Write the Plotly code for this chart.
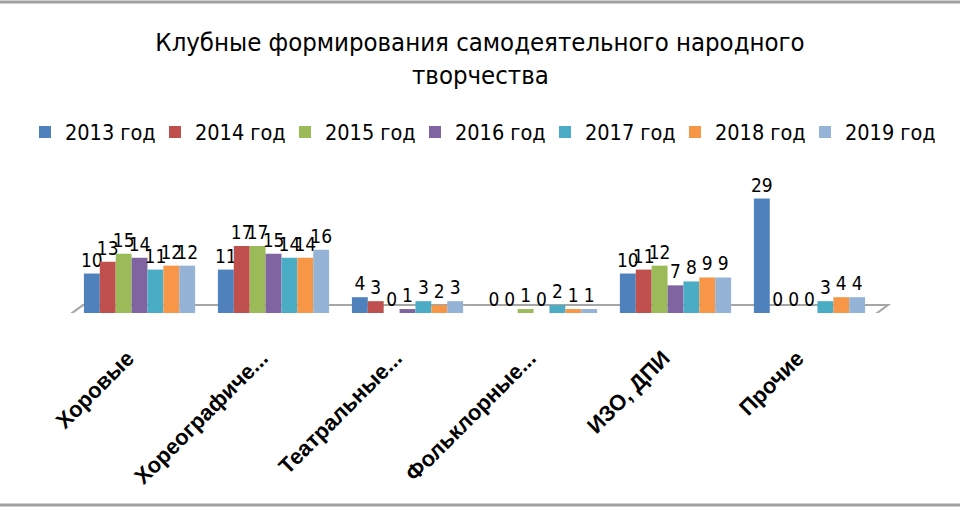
import plotly.graph_objects as go

# данные
categories = ["Хоровые", "Хореографиче...", "Театральные...", "Фольклорные...", "ИЗО, ДПИ", "Прочие"]
years = ["2013 год", "2014 год", "2015 год", "2016 год", "2017 год", "2018 год", "2019 год"]

v2013 = [10, 11, 4, 0, 10, 29]
v2014 = [13, 17, 3, 0, 11, 0]
v2015 = [15, 17, 0, 1, 12, 0]
v2016 = [14, 15, 1, 0, 7, 0]
v2017 = [11, 14, 3, 2, 8, 3]
v2018 = [12, 14, 2, 1, 9, 4]
v2019 = [12, 16, 3, 1, 9, 4]

series = [v2013, v2014, v2015, v2016, v2017, v2018, v2019]
colors = ["#4F81BD", "#C0504D", "#9BBB59", "#8064A2", "#4BACC6", "#F79646", "#95B3D7"]

COND = "DejaVu Sans Condensed, Liberation Sans Narrow, Liberation Sans"

fig = go.Figure()
for name, vals, col in zip(years, series, colors):
    fig.add_trace(go.Bar(
        x=categories, y=vals, name=name,
        marker=dict(color=col, line=dict(width=0)),
        text=vals, textposition="outside", cliponaxis=False,
        constraintext="none", textangle=0,
        textfont=dict(size=19, color="black", family=COND),
    ))

fig.update_layout(
    width=960, height=510,
    template="plotly_white",
    paper_bgcolor="white", plot_bgcolor="white",
    barmode="group", bargap=0.17, bargroupgap=0,
    title=dict(
        text="Клубные формирования самодеятельного народного",
        x=0.5, xanchor="center", yref="container", y=0.918, yanchor="middle",
        font=dict(size=25.5, color="black", family=COND),
    ),
    legend=dict(
        orientation="h", x=0.5, xanchor="center", yref="container", y=0.741, yanchor="middle",
        font=dict(size=21.5, color="black", family=COND),
        entrywidth=85, entrywidthmode="pixels", traceorder="normal",
    ),
    margin=dict(l=20, r=20, t=165, b=197, autoexpand=False),
    showlegend=True,
)
fig.add_annotation(text="творчества", xref="paper", yref="paper", x=0.5, y=1.608,
                   xanchor="center", yanchor="middle", showarrow=False,
                   font=dict(size=25.5, color="black", family=COND))
fig.update_xaxes(
    range=[-0.892, 5.974],
    tickangle=-45, showgrid=False, showline=False, ticks="", automargin=False,
    ticklabelstandoff=27, ticklabelshift=-12,
    tickfont=dict(size=22, color="black", family="Liberation Sans", weight="bold"),
)
fig.update_yaxes(range=[0, 37.5], visible=False, showgrid=False, automargin=False)

# «пол» диаграммы
fig.add_shape(type="path", xref="x", yref="y",
              path="M -0.534,-0.75 L 5.474,-0.75 L 5.586,2.0 L -0.422,2.0 Z",
              line=dict(color="#A6A6A6", width=2), fillcolor="rgba(0,0,0,0)", layer="below")
# рамка сверху и снизу
fig.add_shape(type="line", xref="paper", yref="paper", x0=-0.1, x1=1.1, y0=2.101, y1=2.101,
              line=dict(color="#A0A0A0", width=3))
fig.add_shape(type="line", xref="paper", yref="paper", x0=-0.1, x1=1.1, y0=-1.297, y1=-1.297,
              line=dict(color="#A0A0A0", width=3))

fig.write_html("out.html", config={"displayModeBar": False},
               post_script="document.body.style.margin='0';")
